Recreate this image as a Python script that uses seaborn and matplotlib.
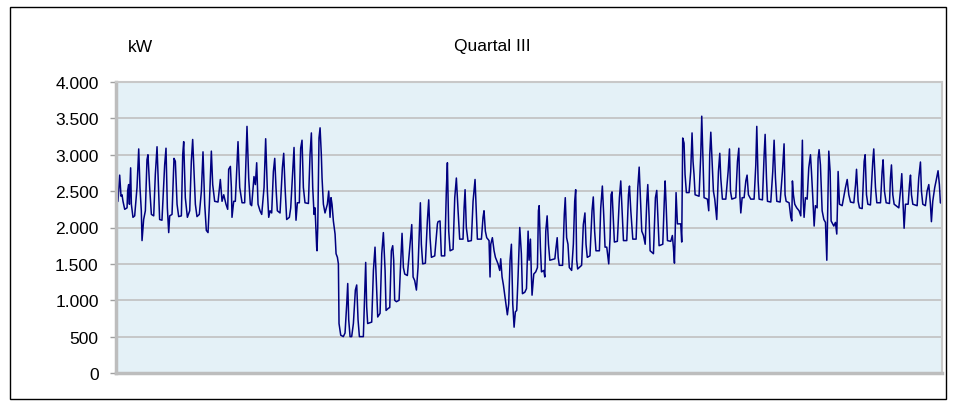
import pandas as pd
import seaborn as sns
import matplotlib.pyplot as plt
from matplotlib.patches import Rectangle
from matplotlib.ticker import FuncFormatter, MultipleLocator

# Load profile, Quartal III (day of quarter, kW)
july = [(0.00, 2340), (0.22, 2360), (0.41, 2720), (0.56, 2430), (0.67, 2450), (0.78, 2360), (0.97, 2250),
        (1.23, 2270), (1.30, 2510), (1.41, 2590), (1.49, 2320), (1.63, 2820), (1.71, 2320), (1.89, 2140),
        (2.08, 2160), (2.34, 2550), (2.53, 3080), (2.67, 2550), (2.82, 2230), (2.90, 1820), (3.08, 2110),
        (3.27, 2230), (3.45, 2930), (3.56, 3000), (3.75, 2550), (3.94, 2180), (4.20, 2160), (4.38, 2730),
        (4.57, 3110), (4.75, 2500), (4.86, 2110), (5.12, 2100), (5.42, 2860), (5.57, 3090), (5.72, 2270),
        (5.87, 1930), (5.98, 2160), (6.24, 2180), (6.46, 2950), (6.61, 2910), (6.80, 2320), (6.98, 2150),
        (7.28, 2160), (7.43, 3000), (7.54, 3180), (7.72, 2410), (7.95, 2140), (8.21, 2230), (8.39, 2910),
        (8.54, 3210), (8.69, 2770), (8.84, 2320), (9.02, 2150), (9.28, 2180), (9.51, 2500), (9.69, 3040),
        (9.88, 2320), (10.06, 1960), (10.25, 1930), (10.40, 2320), (10.62, 3050), (10.77, 2590), (10.99, 2360),
        (11.36, 2350), (11.62, 2660), (11.81, 2360), (12.00, 2450), (12.25, 2320), (12.44, 2250), (12.55, 2800),
        (12.74, 2840), (12.85, 2550), (12.92, 2140), (13.11, 2360), (13.29, 2360), (13.59, 3180), (13.78, 2550),
        (14.04, 2340), (14.33, 2340), (14.59, 3390), (14.78, 2680), (14.96, 2320), (15.11, 2300), (15.37, 2700),
        (15.52, 2590), (15.67, 2890), (15.82, 2320), (16.04, 2230), (16.23, 2180), (16.49, 2550), (16.67, 3220),
        (16.86, 2500), (17.01, 2140), (17.16, 2230), (17.34, 2200), (17.53, 2770), (17.68, 2950), (17.82, 2550),
        (17.97, 2230), (18.27, 2200), (18.53, 2820), (18.68, 3020), (18.83, 2550), (19.01, 2110), (19.31, 2140),
        (19.46, 2270), (19.68, 2770), (19.83, 3100), (19.98, 2320), (20.05, 2100), (20.20, 2340), (20.42, 2340),
        (20.57, 3090), (20.72, 3200), (20.87, 2550), (21.05, 2340), (21.43, 2330), (21.61, 3000), (21.76, 3300),
        (21.91, 2550), (22.06, 2180), (22.17, 2270), (22.35, 1730), (22.39, 1680), (22.47, 2000), (22.61, 3230),
        (22.73, 3370), (22.87, 3000), (22.95, 2680), (23.10, 2320), (23.28, 2200), (23.54, 2320), (23.69, 2500),
        (23.84, 2140), (23.95, 2410), (24.06, 2320), (24.21, 2090), (24.40, 1910), (24.51, 1640), (24.66, 1590),
        (24.77, 1500), (24.84, 680), (25.03, 520), (25.32, 500), (25.51, 550), (25.70, 950), (25.81, 1230),
        (25.92, 730), (26.07, 500), (26.25, 500), (26.44, 680), (26.66, 1140), (26.81, 1210), (26.96, 730),
        (27.11, 500), (27.55, 500), (27.66, 950), (27.81, 1520), (27.92, 910), (28.03, 680), (28.48, 700),
        (28.67, 1410), (28.85, 1730), (29.04, 1140), (29.15, 770), (29.41, 820), (29.60, 1640), (29.78, 1930),
        (29.97, 1410), (30.08, 860), (30.34, 890), (30.49, 900), (30.67, 1680), (30.82, 1750), (30.93, 1550)]

august = [(31.04, 1000), (31.23, 980), (31.53, 1000), (31.67, 1410), (31.86, 1920), (32.01, 1450), (32.16, 1360),
          (32.45, 1340), (32.72, 1730), (32.94, 2040), (33.09, 1320), (33.27, 1270), (33.46, 1140), (33.64, 1450),
          (33.83, 2090), (33.90, 2340), (34.01, 1770), (34.16, 1500), (34.46, 1510), (34.68, 2090), (34.83, 2380),
          (34.98, 1860), (35.13, 1590), (35.50, 1610), (35.80, 2050), (35.87, 2080), (36.09, 2090), (36.17, 1820),
          (36.24, 1610), (36.61, 1610), (36.80, 2540), (36.91, 2890), (37.06, 1950), (37.21, 1680), (37.54, 1700),
          (37.73, 2410), (37.91, 2680), (38.10, 2230), (38.28, 1840), (38.65, 1840), (38.77, 2270), (38.88, 2520),
          (39.02, 2000), (39.21, 1810), (39.58, 1820), (39.77, 2360), (39.99, 2660), (40.14, 2180), (40.25, 1840),
          (40.70, 1840), (40.88, 2140), (40.99, 2230), (41.14, 1950), (41.29, 1860), (41.55, 1820), (41.66, 1320),
          (41.74, 1770), (41.92, 1860), (42.11, 1680), (42.26, 1590), (42.55, 1500), (42.74, 1410), (42.85, 1570),
          (43.00, 1320), (43.15, 1210), (43.37, 1000), (43.59, 800), (43.74, 950), (43.89, 1550), (44.04, 1770),
          (44.19, 950), (44.34, 630), (44.48, 840), (44.63, 860), (44.78, 1320), (44.97, 2000), (45.15, 1640),
          (45.27, 1090), (45.53, 1110), (45.72, 1160), (45.90, 1950), (46.01, 1550), (46.16, 1840), (46.27, 1320),
          (46.34, 1070), (46.53, 1360), (46.75, 1390), (46.94, 1450), (47.05, 2230), (47.13, 2300), (47.27, 1730),
          (47.39, 1390), (47.65, 1410), (47.76, 1320), (47.87, 1950), (48.02, 2160), (48.17, 1770), (48.32, 1550),
          (48.88, 1570), (48.99, 1700), (49.14, 1860), (49.25, 1590), (49.37, 1480), (49.74, 1480), (49.93, 2180),
          (50.04, 2410), (50.19, 1860), (50.34, 1770), (50.49, 1450), (50.75, 1410), (50.94, 1770), (51.09, 2360),
          (51.20, 2520), (51.31, 1550), (51.42, 1430), (51.86, 1480), (52.05, 2040), (52.23, 2200), (52.35, 1770),
          (52.49, 1590), (52.79, 1610), (53.02, 2230), (53.16, 2420), (53.31, 1950), (53.46, 1680), (53.84, 1680),
          (53.99, 2270), (54.17, 2570), (54.32, 2180), (54.47, 1730), (54.66, 1730), (54.88, 1500), (55.03, 1860),
          (55.14, 2450), (55.25, 2490), (55.40, 2090), (55.51, 1800), (55.84, 1810), (56.07, 2410), (56.22, 2640),
          (56.37, 2230), (56.52, 1820), (56.89, 1820), (57.08, 2450), (57.19, 2570), (57.34, 2230), (57.56, 1840),
          (57.93, 1840), (58.12, 2550), (58.27, 2830), (58.38, 2500), (58.56, 1950), (58.75, 1890), (58.94, 1770),
          (59.12, 2360), (59.23, 2590), (59.38, 2140), (59.49, 1680), (59.86, 1640), (60.08, 2410), (60.23, 2510),
          (60.34, 2180), (60.49, 1750), (60.90, 1770), (61.08, 2410), (61.16, 2640), (61.27, 2320), (61.42, 1820),
          (61.79, 1810), (61.97, 1890)]

september = [(62.08, 1730), (62.20, 1510), (62.27, 1860), (62.38, 2480), (62.53, 2050), (62.90, 2050), (63.01, 1800),
             (63.12, 3230), (63.27, 3160), (63.38, 2730), (63.53, 2480), (63.83, 2480), (64.01, 2770), (64.16, 3300),
             (64.27, 2910), (64.38, 2730), (64.50, 2450), (64.94, 2430), (65.13, 3000), (65.24, 3530), (65.39, 2910),
             (65.50, 2410), (65.87, 2390), (66.02, 2230), (66.13, 3000), (66.25, 3310), (66.36, 3000), (66.54, 2500),
             (66.69, 2390), (66.91, 2110), (67.10, 2770), (67.25, 3020), (67.36, 2680), (67.54, 2390), (67.92, 2390),
             (68.18, 2770), (68.33, 3080), (68.44, 2500), (68.59, 2390), (69.03, 2410), (69.22, 2910), (69.37, 3090),
             (69.48, 2450), (69.59, 2200), (69.74, 2410), (69.96, 2410), (70.15, 2640), (70.29, 2720), (70.44, 2450),
             (70.70, 2390), (71.07, 2390), (71.26, 2860), (71.37, 3390), (71.52, 2640), (71.63, 2390), (72.00, 2380),
             (72.19, 3000), (72.30, 3280), (72.45, 2680), (72.56, 2360), (72.93, 2350), (73.15, 2770), (73.30, 3200),
             (73.45, 2680), (73.60, 2360), (73.97, 2350), (74.23, 2770), (74.41, 3150), (74.52, 2450), (74.64, 2360),
             (74.97, 2340), (75.16, 2140), (75.27, 2090), (75.34, 2640), (75.45, 2450), (75.60, 2320), (75.82, 2270),
             (76.08, 2230), (76.27, 2160), (76.45, 3200), (76.53, 2410), (76.64, 2140), (76.79, 2410), (76.98, 2390),
             (77.16, 2820), (77.35, 3000), (77.46, 2770), (77.61, 2410), (77.76, 2020), (77.90, 2300), (78.09, 2270),
             (78.20, 2950), (78.31, 3070), (78.46, 2860), (78.65, 2230), (78.84, 2110), (79.02, 2070), (79.17, 1550),
             (79.24, 2050), (79.39, 3050), (79.54, 2770), (79.65, 2090), (79.95, 2020), (80.13, 2070), (80.28, 1910),
             (80.36, 2320), (80.43, 2770), (80.58, 2320), (80.88, 2300), (81.25, 2550), (81.44, 2660), (81.62, 2450),
             (81.81, 2350), (82.18, 2340), (82.37, 2590), (82.48, 2800), (82.66, 2360), (82.81, 2270), (83.11, 2260),
             (83.33, 2910), (83.44, 3000), (83.59, 2450), (83.74, 2320), (84.03, 2310), (84.29, 2910), (84.40, 3080),
             (84.59, 2550), (84.74, 2340), (85.15, 2340), (85.33, 2770), (85.44, 2930), (85.59, 2500), (85.78, 2340),
             (86.15, 2330), (86.26, 2680), (86.37, 2860), (86.52, 2450), (86.67, 2320), (87.19, 2270), (87.41, 2550),
             (87.52, 2740), (87.67, 2320), (87.78, 1990), (87.93, 2320), (88.23, 2320), (88.38, 2590), (88.49, 2720),
             (88.60, 2450), (88.75, 2320), (89.23, 2300), (89.41, 2680), (89.60, 2900), (89.71, 2500), (89.86, 2320),
             (90.15, 2300), (90.34, 2500), (90.53, 2590), (90.71, 2320), (90.82, 2080), (90.97, 2360), (91.19, 2550),
             (91.34, 2640), (91.56, 2780), (91.71, 2590), (91.82, 2340), (92.00, 2330)]

df = pd.DataFrame(july + august + september, columns=["day", "kW"])

plt.rcParams['font.family'] = ['Liberation Sans', 'DejaVu Sans']

fig = plt.figure(figsize=(9.55, 4.02), dpi=100)
ax = fig.add_axes([116 / 955, 1 - 374 / 402, 826 / 955, 291 / 402])
ax.set_facecolor("#E4F1F7")

sns.lineplot(data=df, x="day", y="kW", ax=ax, estimator=None, sort=False,
             color="#000080", linewidth=1.1)

ax.set_xlim(0, 92)
ax.set_ylim(0, 4000)
ax.yaxis.set_major_locator(MultipleLocator(500))
ax.yaxis.set_major_formatter(FuncFormatter(lambda v, _: f"{int(v):,}".replace(",", ".")))
ax.grid(axis="y", color="#C0C0C0", linewidth=1.2)
ax.set_axisbelow(True)
ax.set_xticks([])
ax.set_xlabel("")
ax.set_ylabel("")
ax.tick_params(axis="y", length=4.5, width=1, color="#A0A0A0", pad=8, labelsize=12.5)
for side in ["left", "bottom"]:
    ax.spines[side].set_color("#BDBDBD")
    ax.spines[side].set_linewidth(2.5)
for side in ["top", "right"]:
    ax.spines[side].set_color("#C8C8C8")
    ax.spines[side].set_linewidth(1.5)

fig.text(492 / 955, 1 - 46 / 402, "Quartal III", ha="center", va="center", fontsize=12.5)
fig.text(140 / 955, 1 - 47 / 402, "kW", ha="center", va="center", fontsize=12.5)

# outer chart frame
fig.patches.append(Rectangle((10 / 955, 1 - 400 / 402), 936 / 955, 392 / 402, transform=fig.transFigure,
                             fill=False, edgecolor="black", linewidth=1))

fig.savefig("out.png", dpi=100)
